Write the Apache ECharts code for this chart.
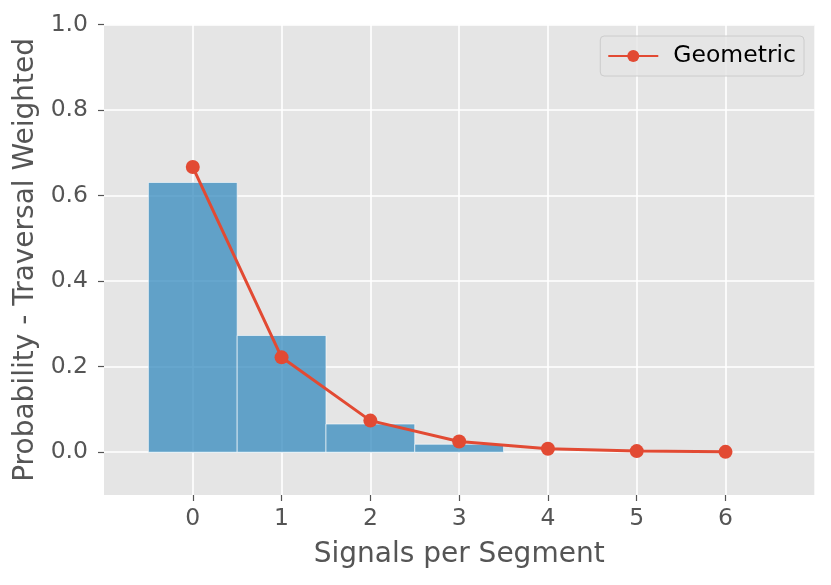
<!DOCTYPE html>
<html><head><meta charset="utf-8">
<script src="https://cdn.jsdelivr.net/npm/echarts@6/dist/echarts.min.js"></script>
<style>html,body{margin:0;padding:0;background:#fff}#c{width:831px;height:585px}</style>
</head><body><div id="c"></div>
<script>
const binCenters = [0, 1, 2, 3];
const histValues = [0.631, 0.273, 0.066, 0.0187];
const geoX = [0, 1, 2, 3, 4, 5, 6];
const geoValues = [0.667, 0.222, 0.074, 0.025, 0.0082, 0.0027, 0.0009];
const xTickLabels = ['0', '1', '2', '3', '4', '5', '6'];
const yTickLabels = ['0.0', '0.2', '0.4', '0.6', '0.8', '1.0'];

const chart = echarts.init(document.getElementById('c'));
const font = 'DejaVu Sans';
const xTickVals = xTickLabels.map(Number);
const yTickVals = yTickLabels.map(Number);
chart.setOption({
  backgroundColor: '#ffffff',
  animation: false,
  textStyle: { fontFamily: font },
  grid: { left: 104, top: 24.7, right: 16.7, bottom: 90, show: true, backgroundColor: '#E5E5E5', borderWidth: 0 },
  legend: {
    right: 27, top: 36,
    data: ['Geometric'],
    itemWidth: 50, itemHeight: 15,
    padding: [8, 8, 8, 7],
    backgroundColor: 'rgba(229,229,229,0.8)',
    borderColor: '#cccccc', borderWidth: 1, borderRadius: 4,
    textStyle: { fontFamily: font, fontSize: 23.5, color: '#000', padding: [0, 0, 0, 10] }
  },
  xAxis: {
    type: 'value', min: -1, max: 7, interval: 1,
    name: 'Signals per Segment', nameLocation: 'middle', nameGap: 46,
    nameTextStyle: { fontFamily: font, fontSize: 28, color: '#555555' },
    axisLine: { show: false, onZero: false },
    axisTick: { show: true, length: 6, customValues: xTickVals, lineStyle: { color: '#555555', width: 1.2 } },
    axisLabel: { margin: 12, fontFamily: font, fontSize: 23.5, color: '#555555', customValues: xTickVals,
      formatter: v => { const i = xTickVals.indexOf(v); return i >= 0 ? xTickLabels[i] : ''; } },
    splitLine: { show: true, lineStyle: { color: '#ffffff', width: 1.6 } }
  },
  yAxis: {
    type: 'value', min: -0.1, max: 1.0,
    name: 'Probability - Traversal Weighted', nameLocation: 'middle', nameGap: 54,
    nameTextStyle: { fontFamily: font, fontSize: 28, color: '#555555' },
    axisLine: { show: false, onZero: false },
    axisTick: { show: true, length: 6, customValues: yTickVals, lineStyle: { color: '#555555', width: 1.2 } },
    axisLabel: { margin: 16, fontFamily: font, fontSize: 23.5, color: '#555555', customValues: yTickVals,
      formatter: v => { const i = yTickVals.findIndex(t => Math.abs(t - v) < 1e-9); return i >= 0 ? yTickLabels[i] : ''; } },
    splitLine: { show: true, lineStyle: { color: '#ffffff', width: 1.6 } }
  },
  series: [
    {
      type: 'custom', name: 'hist', z: 2,
      data: binCenters.map((c, i) => [c, histValues[i]]),
      renderItem: (params, api) => {
        const c = api.value(0), v = api.value(1);
        const p0 = api.coord([c - 0.5, 0]);
        const p1 = api.coord([c + 0.5, v]);
        return { type: 'rect',
          shape: { x: p0[0], y: p1[1], width: p1[0] - p0[0], height: p0[1] - p1[1] },
          style: { fill: 'rgba(52,138,189,0.75)', stroke: 'rgba(255,255,255,0.6)', lineWidth: 1 } };
      }
    },
    {
      type: 'line', name: 'Geometric', z: 3,
      data: geoX.map((x, i) => [x, geoValues[i]]),
      symbol: 'circle', symbolSize: 14,
      itemStyle: { color: '#E24A33' },
      lineStyle: { color: '#E24A33', width: 3 }
    }
  ]
});
</script></body></html>
